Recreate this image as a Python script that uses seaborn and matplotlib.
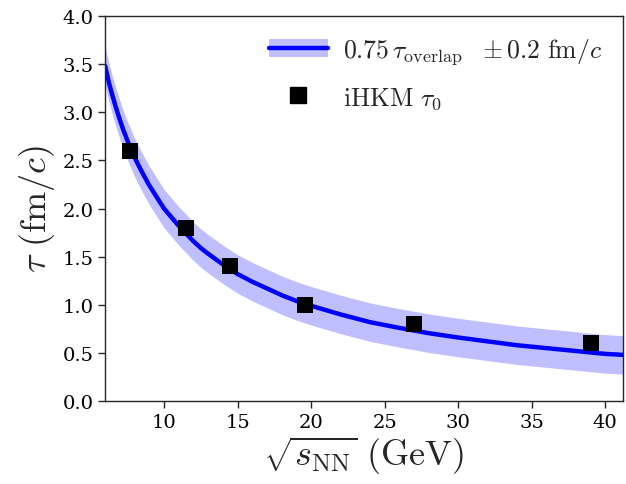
import numpy as np
import pandas as pd
import matplotlib
matplotlib.use("Agg")
import matplotlib.pyplot as plt
import seaborn as sns
from matplotlib.lines import Line2D

# Curve: 0.75 tau_overlap (fm/c) vs sqrt(s_NN) (GeV)
curve_x = [6, 6.25, 6.5, 6.75, 7, 7.25, 7.5, 8, 8.5, 9, 9.5, 10, 10.5, 11,
           11.5, 12, 12.5, 13, 14, 15, 16, 17, 18, 19, 20, 22, 24,
           26, 28, 30, 32, 34, 36, 38, 40, 41.2]
curve_y = [3.48, 3.31, 3.17, 3.04, 2.92, 2.81, 2.71, 2.53, 2.38, 2.24, 2.12,
           2.00, 1.91, 1.82, 1.74, 1.66, 1.59, 1.53, 1.42, 1.32, 1.24, 1.17,
           1.10, 1.04, 0.99, 0.90, 0.82, 0.76, 0.705, 0.66, 0.62, 0.58,
           0.55, 0.52, 0.49, 0.48]
band_halfwidth = 0.2

# iHKM tau_0 points
ihkm_x = [7.7, 11.5, 14.5, 19.6, 27.0, 39.0]
ihkm_y = [2.6, 1.8, 1.4, 1.0, 0.8, 0.6]

sns.set_theme(style="ticks")
plt.rcParams['font.family'] = ['DejaVu Serif']
plt.rcParams['mathtext.fontset'] = 'cm'

fig = plt.figure(figsize=(6.26, 4.85), dpi=100)
ax = fig.add_axes([0.168, 0.171, 0.827, 0.794])

cy = np.array(curve_y)
band = ax.fill_between(curve_x, cy - band_halfwidth, cy + band_halfwidth,
                       color='blue', alpha=0.25, linewidth=0)
curve_df = pd.DataFrame({'x': curve_x, 'y': curve_y})
sns.lineplot(data=curve_df, x='x', y='y', ax=ax, color='blue', linewidth=3.2,
             legend=False)
line = ax.lines[-1]

pts_df = pd.DataFrame({'x': ihkm_x, 'y': ihkm_y})
sns.scatterplot(data=pts_df, x='x', y='y', ax=ax, marker='s', color='black',
                s=145, edgecolor='black', linewidth=0, zorder=5, legend=False)

ax.set_xlim(6, 41.2)
ax.set_ylim(0, 4)
ax.set_xticks([10, 15, 20, 25, 30, 35, 40])
ax.set_yticks(np.arange(0, 4.01, 0.5))
ax.tick_params(labelsize=14, direction='out', length=5, width=1, colors='#262626')
for lab in ax.get_xticklabels() + ax.get_yticklabels():
    lab.set_color('black')
for s in ax.spines.values():
    s.set_color('#262626')
    s.set_linewidth(1.0)

ax.set_xlabel(r'$\sqrt{s_{\rm NN}}\ (\rm GeV)$', fontsize=26, labelpad=2)
ax.set_ylabel(r'$\tau\ (\rm fm/\mathit{c})$', fontsize=26, labelpad=4)

sq = Line2D([], [], marker='s', color='black', linestyle='none', markersize=12)
ax.legend([(band, line), sq],
          [r'$0.75\,\tau_{\rm overlap}\ \ \pm 0.2\ {\rm fm}/c$',
           r'$\rm iHKM\ \tau_0$'],
          loc='upper right', frameon=False, fontsize=18.5, handlelength=2.3,
          borderaxespad=0.4, labelspacing=0.7, handletextpad=0.6)

fig.savefig('out.png', dpi=100)
